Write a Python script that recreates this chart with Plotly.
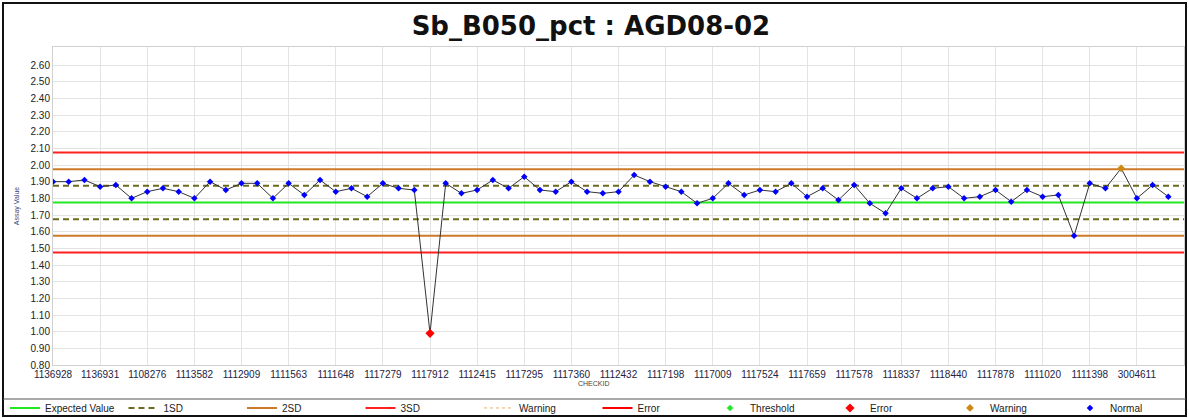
"""QC control chart: Sb_B050_pct for standard AGD08-02."""

import numpy as np
import plotly.graph_objects as go

# ---- data ----------------------------------------------------------------
check_ids = [
    "1136928", "1136931", "1108276", "1113582", "1112909", "1111563",
    "1111648", "1117279", "1117912", "1112415", "1117295", "1117360",
    "1112432", "1117198", "1117009", "1117524", "1117659", "1117578",
    "1118337", "1118440", "1117878", "1111020", "1111398", "3004611",
]
assay_values = [
    1.90, 1.90, 1.91, 1.87, 1.88, 1.80, 1.84, 1.86, 1.84, 1.80, 1.90, 1.85,
    1.89, 1.89, 1.80, 1.89, 1.82, 1.91, 1.84, 1.86, 1.81, 1.89, 1.86, 1.85,
    0.99, 1.89, 1.83, 1.85, 1.91, 1.86, 1.93, 1.85, 1.84, 1.90, 1.84, 1.83,
    1.84, 1.94, 1.90, 1.87, 1.84, 1.77, 1.80, 1.89, 1.82, 1.85, 1.84, 1.89,
    1.81, 1.86, 1.79, 1.88, 1.77, 1.71, 1.86, 1.80, 1.86, 1.87, 1.80, 1.81,
    1.85, 1.78, 1.85, 1.81, 1.82, 1.575, 1.89, 1.86, 1.98, 1.80, 1.88, 1.81,
]
flagged = {24: "Error", 68: "Warning"}
expected_value = 1.775
std_dev = 0.10
labels_every = 3

# ---- layout geometry (pixels) ---------------------------------------------
W, H = 1189, 418
ML, MR, MT, MB = 53, 5, 47, 53
PW, PH = W - ML - MR, H - MT - MB


def px_x(p):
    return (p - ML) / PW


def px_y(p):
    return (H - MB - p) / PH


idx = list(range(len(assay_values)))
x_lo, x_hi = 0, len(assay_values)

fig = go.Figure()


def limit_trace(name, k, color, dash="solid", width=2):
    if k == 0:
        xs, ys = [x_lo, x_hi], [expected_value] * 2
    else:
        up, dn = expected_value + k * std_dev, expected_value - k * std_dev
        xs = [x_lo, x_hi, None, x_lo, x_hi]
        ys = [up, up, None, dn, dn]
    fig.add_trace(go.Scatter(x=xs, y=ys, mode="lines", name=name,
                             line=dict(color=color, width=width, dash=dash),
                             hoverinfo="skip"))


limit_trace("Expected Value", 0, "#22E822")
limit_trace("1SD", 1, "#6B6B1F", dash="6px,4px")
limit_trace("2SD", 2, "#CC7A29")
limit_trace("3SD", 3, "#FF2020")

# legend-only entries
fig.add_trace(go.Scatter(x=[None], y=[None], mode="lines", name="Warning",
                         line=dict(color="#E8B070", width=1, dash="dot")))
fig.add_trace(go.Scatter(x=[None], y=[None], mode="lines", name="Error",
                         line=dict(color="#FF0000", width=2)))

# connecting line
fig.add_trace(go.Scatter(x=idx, y=assay_values, mode="lines", showlegend=False,
                         line=dict(color="#333333", width=1), hoverinfo="skip"))

fig.add_trace(go.Scatter(x=[None], y=[None], mode="markers", name="Threshold",
                         legend="legend2",
                         marker=dict(symbol="diamond", color="#22E822", size=5)))

status = [flagged.get(i, "Normal") for i in idx]
marker_styles = {
    "Error": ("#FF0000", 7),
    "Warning": ("#CC8A14", 6),
    "Normal": ("#0000FF", 5),
}
for st, (col, sz) in marker_styles.items():
    xs = [i for i in idx if status[i] == st]
    ys = [assay_values[i] for i in xs]
    fig.add_trace(go.Scatter(x=xs, y=ys, mode="markers", name=st, legend="legend2",
                             marker=dict(symbol="diamond", color=col, size=sz,
                                         line=dict(width=0))))

yticks = [round(0.8 + 0.1 * i, 2) for i in range(19)]

legend_common = dict(orientation="h", xref="container", xanchor="left",
                     y=0.024, yref="container", yanchor="middle",
                     entrywidthmode="pixels", bgcolor="rgba(0,0,0,0)",
                     font=dict(size=10, color="#222222"),
                     itemclick=False, traceorder="normal")

fig.update_layout(
    width=W, height=H,
    margin=dict(l=ML, r=MR, t=MT, b=MB, autoexpand=False),
    paper_bgcolor="white", plot_bgcolor="white",
    font=dict(family="Liberation Sans, Arial, sans-serif", size=10, color="#222222"),
    title=dict(text="<b>Sb_B050_pct : AGD08-02</b>", x=0.497, xref="container",
               xanchor="center", y=0.938, yref="container", yanchor="middle",
               font=dict(family="DejaVu Sans", size=26, color="#111111")),
    showlegend=True,
    legend=dict(x=5 / W, entrywidth=73.5, **legend_common),
    legend2=dict(x=710 / W, entrywidth=75, **legend_common),
)
fig.update_xaxes(
    range=[x_lo, x_hi], tickmode="array", automargin=False,
    tickvals=idx[::labels_every], ticktext=check_ids,
    showgrid=True, gridcolor="#E3E3E3", gridwidth=1,
    showline=True, linecolor="#D0D0D0", mirror=True,
    ticks="", zeroline=False, tickfont=dict(size=10, color="#222244"),
)
fig.update_yaxes(
    range=[0.8, 2.708], tickmode="array", tickvals=yticks, automargin=False,
    tickformat=".2f", showgrid=True, gridcolor="#E3E3E3", gridwidth=1,
    showline=True, linecolor="#D0D0D0", mirror=True,
    ticks="", zeroline=False, tickfont=dict(size=10, color="#222222"),
    title=dict(text="Assay Value", font=dict(size=7, color="#3A4A7A"), standoff=10),
)

fig.add_annotation(text="CHECKID", x=px_x(594), y=px_y(389), xref="paper", yref="paper",
                   showarrow=False, font=dict(size=7, color="#444444"))

# outer frame and legend separator
fig.add_shape(type="rect", xref="paper", yref="paper",
              x0=px_x(3), x1=px_x(1186), y0=px_y(416), y1=px_y(3),
              line=dict(color="#111111", width=2), layer="above")
fig.add_shape(type="line", xref="paper", yref="paper",
              x0=px_x(3), x1=px_x(1186), y0=px_y(399), y1=px_y(399),
              line=dict(color="#555555", width=1), layer="above")

fig.write_html("out.html", config={"displayModeBar": False},
               post_script="document.body.style.margin='0';")
